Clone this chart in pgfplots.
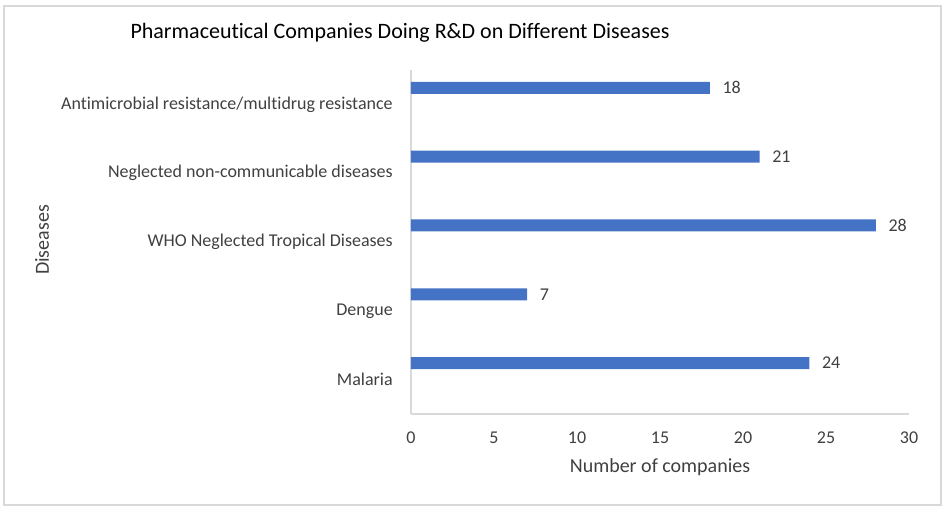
\documentclass[border=0pt]{standalone}
\usepackage{pgfplots}
\pgfplotsset{compat=1.18}
\usepackage{fontspec}
\setmainfont{Carlito}[Ligatures=NoCommon]
\definecolor{barblue}{HTML}{4472C4}
\definecolor{txt}{HTML}{595959}
\definecolor{ytxt}{HTML}{404040}
\definecolor{axl}{HTML}{D9D9D9}
\begin{document}
\begin{tikzpicture}
\useasboundingbox (0,0) rectangle (710.25pt,383.25pt);
\draw[axl, line width=1.1pt] (3pt,4.5pt) rectangle (705.75pt,378.75pt);
\node[font=\fontsize{16.5}{19}\selectfont, text=black] at (300pt,358.5pt) {Pharmaceutical Companies Doing R\&D on Different Diseases};
\node[font=\fontsize{15}{17}\selectfont, text=ytxt, rotate=90] at (31.5pt,203.25pt) {Diseases};
\begin{axis}[
  at={(308.25pt,72.75pt)}, anchor=south west,
  scale only axis, width=373.5pt, height=258pt,
  xmin=0, xmax=30, ymin=-0.5, ymax=4.5,
  axis x line=bottom, axis y line=left,
  axis line style={axl, line width=1.1pt, -},
  xtick={0,5,...,30}, ytick={0,1,2,3,4},
  yticklabels={Malaria,Dengue,WHO Neglected Tropical Diseases,Neglected non-communicable diseases,Antimicrobial resistance/multidrug resistance},
  major tick length=0pt,
  tick label style={font=\fontsize{13.5}{16}\selectfont, text=ytxt},
  /pgf/number format/assume math mode=true,
  xticklabel style={anchor=center, yshift=-18pt},
  yticklabel style={anchor=east, inner sep=0pt, xshift=-13.5pt},
  xlabel={Number of companies},
  xlabel style={at={(axis description cs:0.5,0)}, anchor=center, yshift=-40pt, font=\fontsize{15}{17}\selectfont, text=ytxt},
  xbar, bar width=9pt, bar shift=12.4pt,
  nodes near coords,
  nodes near coords style={anchor=west, xshift=6pt, font=\fontsize{13.5}{16}\selectfont, text=ytxt},
]
\addplot[fill=barblue, draw=none] coordinates {(24,0) (7,1) (28,2) (21,3) (18,4)};
\end{axis}
\end{tikzpicture}
\end{document}
